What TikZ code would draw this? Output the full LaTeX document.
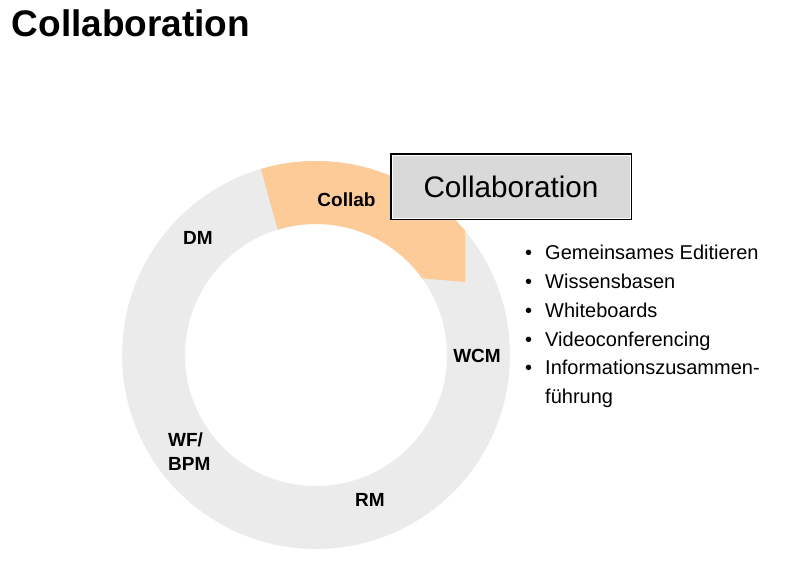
\documentclass[tikz,border=0pt]{standalone}
\usepackage{fontspec}
\setmainfont{Liberation Sans}
\usetikzlibrary{calc, positioning}
\definecolor{ringgray}{HTML}{EBEBEB}
\definecolor{collaborange}{HTML}{FCCB98}
\definecolor{boxgray}{HTML}{D9D9D9}

\begin{document}
\begin{tikzpicture}[x=1pt, y=1pt, % styles used in image code
   seglabel/.style = {font=\bfseries\fontsize{19}{24}\selectfont,
                      inner sep=0pt, anchor=base},
   titlebox/.style = {draw=black, line width=2pt, fill=boxgray,
                      minimum width=240pt, minimum height=65pt,
                      inner sep=0pt,
                      font=\fontsize{29.7}{34}\selectfont},
   itemlist/.style = {inner sep=0pt, anchor=base west,
                      font=\fontsize{20}{28.7}\selectfont}
                    ]
    \useasboundingbox (0,0) rectangle (799,585);

    % heading
    \node[anchor=base west, inner sep=0pt,
          font=\bfseries\fontsize{37}{40}\selectfont] (heading) at (11.5,548) {Collaboration};

    % ring and its segment
    \begin{scope}[shift={(316,230)}]
    \fill[ringgray, even odd rule] (0,0) circle (194) (0,0) circle (131);
    \fill[collaborange] (106.5:194) arc[start angle=106.5, end angle=39.8, radius=194]
          -- (149,73) -- (35.8:131) arc[start angle=35.8, end angle=107, radius=131] -- cycle;
    \end{scope}

    % segment labels
    \node[seglabel] (collab) at (346.5,378) {Collab};
    \node[seglabel] (dm)     at (198,340)   {DM};
    \node[seglabel] (wcm)    at (477,222)   {WCM};
    \node[seglabel, anchor=base west, align=left] (wfbpm) at (168,114) {WF/\\BPM};
    \node[seglabel] (rm)     at (370,78)    {RM};

    % box with the name
    \node[titlebox] (box) at (511,398.5) {Collaboration};
    \draw[white, thin] ($(box.south west)+(1.8,1.8)$) rectangle ($(box.north east)-(1.8,1.8)$);

    % list of features
    \node[itemlist] (items) at (525,325) {%
      \begin{tabular}[t]{@{}l@{\hspace{13pt}}l@{}}
        \textbullet & Gemeinsames Editieren\\
        \textbullet & Wissensbasen\\
        \textbullet & Whiteboards\\
        \textbullet & Videoconferencing\\
        \textbullet & Informationszusammen-\\
                    & führung
      \end{tabular}};
\end{tikzpicture}
\end{document}
